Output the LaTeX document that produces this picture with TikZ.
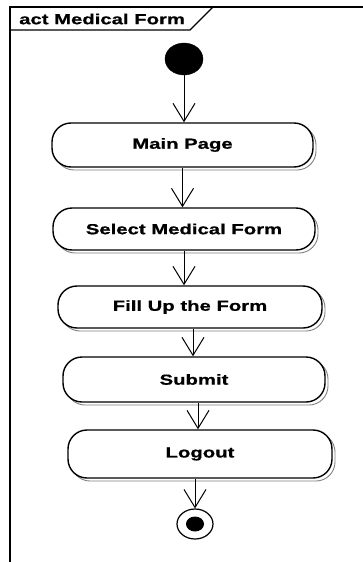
\documentclass[tikz,border=0pt]{standalone}
\usepackage{fontspec}
\usetikzlibrary{arrows.meta,shapes.geometric}
\newfontfamily\umlfont{Liberation Sans Bold}[FakeStretch=1.4, FakeBold=0.8]
\tikzset{
  act/.style={draw=black, line width=1.4pt, fill=white, rounded corners=19pt,
    inner sep=0pt, font=\umlfont\fontsize{14.5}{16}\selectfont,
    preaction={draw=black!50, line width=0.9pt,
      transform canvas={shift={(3pt,-3pt)}}}},
  flow/.style={draw=black, line width=1pt,
    -{Straight Barb[length=18pt,width=22pt,line width=1pt]}},
  frameline/.style={draw=black, line width=1.2pt}
}
\begin{document}
\begin{tikzpicture}[x=1pt,y=-1pt]
  \useasboundingbox (0,0) rectangle (362,562);
  % diagram frame with its name tab
  \draw[frameline] (10,580) -- (10,7) -- (380,7);
  \draw[frameline] (10,30) -- (190,30) -- (213,7);
  \node[anchor=west, font=\umlfont\fontsize{14.5}{16}\selectfont, inner sep=0pt]
    (title) at (19,19) {act Medical Form};
  % initial and final nodes
  \node[draw=black, fill=black, ellipse, minimum width=38pt, minimum height=32pt, inner sep=0pt] (start) at (184,59) {};
  \node[draw=black, line width=1.2pt, ellipse, minimum width=36pt, minimum height=30pt, inner sep=0pt] (stop) at (195,524) {};
  \node[fill=black, ellipse, minimum width=18pt, minimum height=15pt, inner sep=0pt] (stopdot) at (stop) {};
  % actions
  \node[act, minimum width=261pt, minimum height=44pt] (main) at (182.5,145) {Main Page};
  \node[act, minimum width=262pt, minimum height=42pt] (sel) at (184,229) {Select Medical Form};
  \node[act, minimum width=264pt, minimum height=42pt] (fill) at (190,307) {Fill Up the Form};
  \node[act, minimum width=262pt, minimum height=45pt] (submit) at (194,379.5) {Submit};
  \node[act, minimum width=264pt, minimum height=48pt] (logout) at (200,454) {Logout};
  % control flows
  \draw[flow] (start) -- (start |- main.north);
  \draw[flow] (main.south) -- (main.south |- sel.north);
  \draw[flow] (sel.south) -- (sel.south |- fill.north);
  \draw[flow] ([xshift=3pt]fill.south) -- ([xshift=3pt]fill.south |- submit.north);
  \draw[flow] ([xshift=4pt]submit.south) -- ([xshift=4pt]submit.south |- logout.north);
  \draw[flow] (stop |- logout.south) -- (stop.north);
\end{tikzpicture}
\end{document}
